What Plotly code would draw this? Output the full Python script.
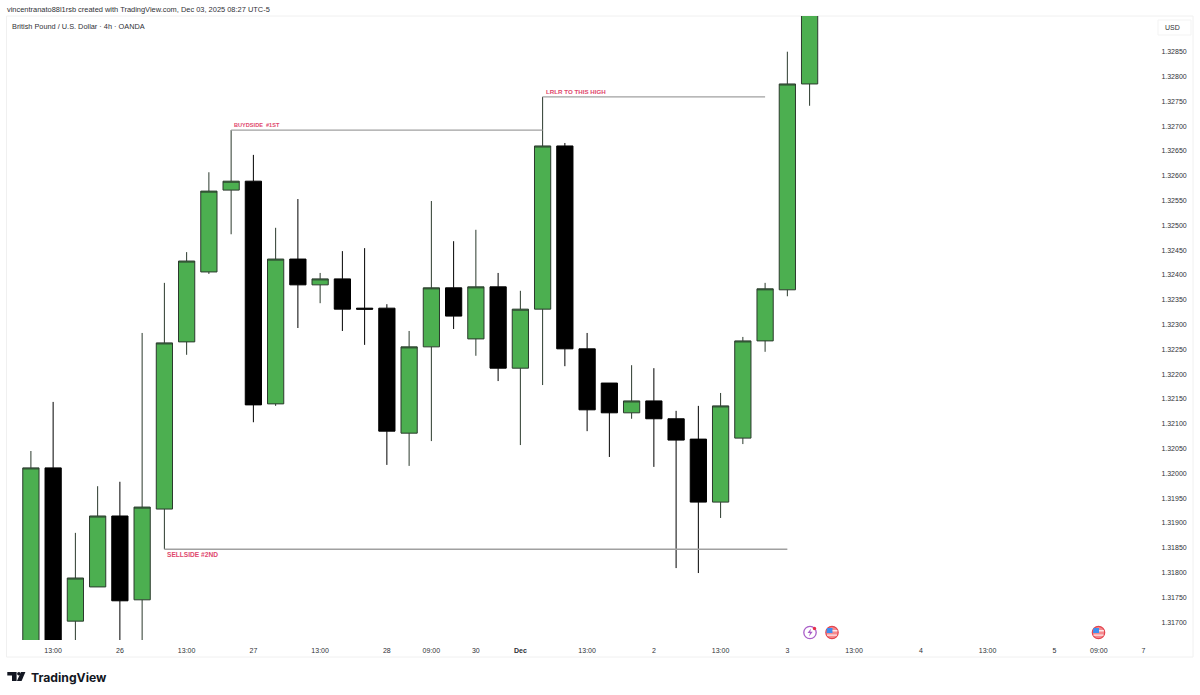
import plotly.graph_objects as go

# ---------- data ----------
bar_index = list(range(36))
opens = [1.31650, 1.32011, 1.31702, 1.31771, 1.31914, 1.31745, 1.31928, 1.32265, 1.32406, 1.32571,
         1.32589, 1.32140, 1.32432, 1.32380, 1.32392, 1.32333, 1.32333, 1.32081, 1.32255, 1.32374,
         1.32271, 1.32376, 1.32212, 1.32331, 1.32660, 1.32251, 1.32182, 1.32122, 1.32146, 1.32110,
         1.32069, 1.31942, 1.32071, 1.32267, 1.32370, 1.32785]
closes = [1.32011, 1.31650, 1.31789, 1.31914, 1.31743, 1.31932, 1.32263, 1.32428, 1.32569, 1.32589,
          1.32138, 1.32432, 1.32380, 1.32392, 1.32331, 1.32331, 1.32085, 1.32255, 1.32374, 1.32317,
          1.32376, 1.32212, 1.32331, 1.32660, 1.32251, 1.32128, 1.32122, 1.32146, 1.32110, 1.32067,
          1.31942, 1.32136, 1.32267, 1.32372, 1.32785, 1.32960]
highs = [1.32045, 1.32144, 1.31880, 1.31974, 1.31983, 1.32283, 1.32384, 1.32446, 1.32607, 1.32692,
         1.32642, 1.32495, 1.32553, 1.32404, 1.32448, 1.32454, 1.32341, 1.32287, 1.32549, 1.32468,
         1.32491, 1.32404, 1.32368, 1.32759, 1.32666, 1.32283, 1.32182, 1.32218, 1.32212, 1.32126,
         1.32136, 1.32162, 1.32275, 1.32384, 1.32850, 1.33000]
lows = [1.31600, 1.31600, 1.31600, 1.31771, 1.31600, 1.31600, 1.31847, 1.32239, 1.32402, 1.32482,
        1.32103, 1.32136, 1.32293, 1.32343, 1.32287, 1.32259, 1.32017, 1.32015, 1.32065, 1.32291,
        1.32237, 1.32186, 1.32057, 1.32178, 1.32216, 1.32085, 1.32033, 1.32110, 1.32013, 1.31809,
        1.31799, 1.31910, 1.32059, 1.32245, 1.32357, 1.32741]

price_ticks = [1.31700, 1.31750, 1.31800, 1.31850, 1.31900, 1.31950, 1.32000, 1.32050, 1.32100,
               1.32150, 1.32200, 1.32250, 1.32300, 1.32350, 1.32400, 1.32450, 1.32500, 1.32550,
               1.32600, 1.32650, 1.32700, 1.32750, 1.32800, 1.32850]
time_tick_pos = [1, 4, 7, 10, 13, 16, 18, 20, 22, 25, 28, 31, 34, 37, 40, 43, 46, 48, 50]
time_tick_text = ["13:00", "26", "13:00", "27", "13:00", "28", "09:00", "30", "<b>Dec</b>", "13:00",
                  "2", "13:00", "3", "13:00", "4", "13:00", "5", "09:00", "7"]

buyside_level = [9, 23, 1.32692]
lrlr_level = [23, 33, 1.32759]
sellside_level = [6, 34, 1.31847]

# ---------- page geometry ----------
W, H = 1200, 695
L, R, T, B = 7, 1150, 16, 640
def px(x): return (x - L) / (R - L)
def py(y): return (B - y) / (B - T)

GREY = "#a0a0a0"
RED = "#e0476c"
TXT = "#2f3136"

fig = go.Figure(go.Candlestick(
    x=bar_index, open=opens, high=highs, low=lows, close=closes,
    increasing=dict(fillcolor="#4caf50", line=dict(color="#2b3a2d", width=1)),
    decreasing=dict(fillcolor="#000000", line=dict(color="#000000", width=1)),
    whiskerwidth=0, showlegend=False, hoverinfo="skip",
))

shapes = []
# pane outlines
shapes.append(dict(type="rect", xref="paper", yref="paper", x0=px(6.5), x1=px(1193), y0=py(657), y1=py(16),
                   line=dict(color="#f0f0f0", width=1), layer="below"))
shapes.append(dict(type="rect", xref="paper", yref="paper", x0=px(1158), x1=px(1191), y0=py(35), y1=py(20),
                   line=dict(color="#f3f3f3", width=1), layer="below"))
# drawn levels
for lv in (buyside_level, lrlr_level, sellside_level):
    shapes.append(dict(type="line", xref="x", yref="y", x0=lv[0], x1=lv[1], y0=lv[2], y1=lv[2],
                       line=dict(color=GREY, width=1.3)))

# logo
def poly(points, color):
    d = "M" + " L".join(f"{px(a):.5f},{py(b):.5f}" for a, b in points) + " Z"
    return dict(type="path", xref="paper", yref="paper", path=d, fillcolor=color, line=dict(width=0))
shapes.append(poly([(7.3, 672), (16.6, 672), (16.6, 681), (12, 681), (12, 675.6), (7.3, 675.6)], "#131722"))
shapes.append(poly([(21, 672), (25.4, 672), (21.6, 681), (16.9, 681)], "#131722"))
def circ(cx, cy, r, fill, line=None, lw=0):
    return dict(type="circle", xref="paper", yref="paper", x0=px(cx - r), x1=px(cx + r), y0=py(cy + r), y1=py(cy - r),
                fillcolor=fill, line=dict(color=line or "rgba(0,0,0,0)", width=lw))
shapes.append(circ(18.9, 673.8, 1.8, "#131722"))

# event icons
shapes.append(circ(810, 632.5, 6.2, "#ffffff", "#a95ec8", 1.3))
shapes.append(poly([(811, 628.5), (807.5, 633), (810, 633), (809, 636.5), (812.7, 631.7), (810.3, 631.7)], "#a95ec8"))
shapes.append(circ(814.5, 628.5, 1.7, "#e8304a"))
for cx in (832, 1098.5):
    shapes.append(circ(cx, 632.5, 6.2, "#f58a8f", "#e2454f", 1.2))
    shapes.append(poly([(cx - 5, 628), (cx + 0.5, 628), (cx + 0.5, 633), (cx - 5.5, 633)], "#3d8ff0"))
    shapes.append(poly([(cx + 0.5, 630.2), (cx + 5.4, 630.2), (cx + 5.4, 631.4), (cx + 0.5, 631.4)], "#ffffff"))
    shapes.append(poly([(cx - 5, 634.6), (cx + 5, 634.6), (cx + 5, 635.6), (cx - 5, 635.6)], "#ffffff"))

def note(x, y, text, size, color=TXT, family="Liberation Sans", anchor="left"):
    return dict(xref="paper", yref="paper", x=px(x), y=py(y), text=text, showarrow=False,
                xanchor=anchor, yanchor="middle", xshift=0, yshift=0, borderpad=0,
                font=dict(size=size, color=color, family=family))

annotations = [
    note(6, 9, "vincentranato88l1rsb created with TradingView.com, Dec 03, 2025 08:27 UTC-5", 7.45),
    note(10.5, 26, "British Pound / U.S. Dollar · 4h · OANDA", 7.35),
    note(1163.5, 27.5, "USD", 7),
    note(232.5, 124.5, "<b>BUYDSIDE  #1ST</b>", 5.6, RED),
    note(544.5, 91.5, "<b>LRLR TO THIS HIGH</b>", 6.2, RED),
    note(166, 554, "<b>SELLSIDE #2ND</b>", 6.6, RED),
    note(29.5, 677, "<b>TradingView</b>", 12.2, "#131722", "Inter"),
]

fig.update_layout(
    width=W, height=H, autosize=False,
    margin=dict(l=L, r=W - R, t=T, b=H - B, pad=0),
    paper_bgcolor="#ffffff", plot_bgcolor="#ffffff",
    boxgap=0.27, boxgroupgap=0, showlegend=False,
    shapes=shapes, annotations=annotations,
    font=dict(family="Liberation Sans", size=7, color=TXT),
    xaxis=dict(type="linear", range=[-1.074, 50.30], rangeslider=dict(visible=False), showgrid=False, zeroline=False,
               showline=False, tickmode="array", tickvals=time_tick_pos, ticktext=time_tick_text,
               ticks="outside", ticklen=4, tickcolor="rgba(0,0,0,0)", tickfont=dict(size=7, color=TXT)),
    yaxis=dict(type="linear", side="right", range=[1.31664, 1.32922], showgrid=False, zeroline=False, showline=False,
               tickmode="array", tickvals=price_ticks, tickformat=".5f",
               ticks="outside", ticklen=9, tickcolor="rgba(0,0,0,0)", tickfont=dict(size=7, color=TXT)),
)

fig.write_html("out.html", config=dict(displayModeBar=False),
               post_script="document.body.style.margin='0';document.documentElement.style.overflow='hidden';")
